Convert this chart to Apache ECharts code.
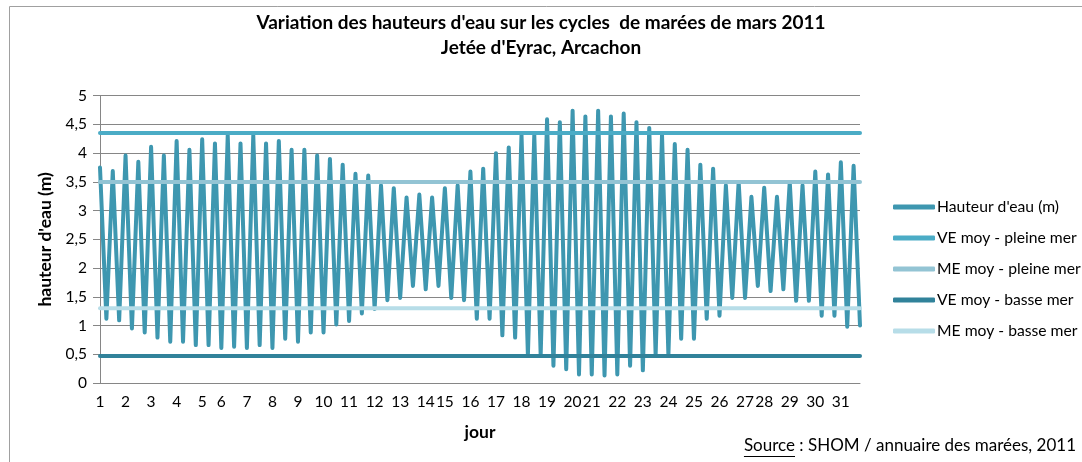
<!DOCTYPE html>
<html>
<head>
<meta charset="utf-8">
<script src="https://cdn.jsdelivr.net/npm/echarts@6/dist/echarts.min.js"></script>
<style>
  html, body { margin: 0; padding: 0; background: #fff; }
  #chart { width: 1082px; height: 462px; }
</style>
</head>
<body>
<div id="chart"></div>
<script>
// hauteurs de pleine mer (m), une par marée, dans l'ordre
var pleineMer = [3.75, 3.69, 3.96, 3.85, 4.11, 3.96, 4.21, 4.06, 4.24, 4.17,
  4.31, 4.17, 4.31, 4.17, 4.21, 4.06, 4.06, 3.96, 3.90, 3.80,
  3.64, 3.61, 3.44, 3.39, 3.23, 3.28, 3.23, 3.39, 3.44, 3.68,
  3.73, 4.00, 4.10, 4.32, 4.32, 4.59, 4.54, 4.74, 4.64, 4.74,
  4.64, 4.69, 4.54, 4.44, 4.32, 4.16, 4.06, 3.80, 3.73, 3.44,
  3.50, 3.24, 3.40, 3.24, 3.50, 3.44, 3.68, 3.63, 3.84, 3.78];
// hauteurs de basse mer (m), chacune après la pleine mer de même rang
var basseMer = [1.12, 1.09, 0.95, 0.88, 0.79, 0.72, 0.72, 0.66, 0.66, 0.61,
  0.63, 0.61, 0.66, 0.61, 0.77, 0.72, 0.88, 0.88, 1.02, 1.08,
  1.21, 1.29, 1.44, 1.48, 1.69, 1.63, 1.69, 1.48, 1.44, 1.12,
  1.12, 0.83, 0.79, 0.49, 0.49, 0.30, 0.24, 0.15, 0.15, 0.13,
  0.15, 0.30, 0.22, 0.49, 0.49, 0.77, 0.77, 1.12, 1.17, 1.48,
  1.48, 1.69, 1.60, 1.63, 1.43, 1.43, 1.17, 1.17, 0.98, 1.00];
// jours du mois et rang de leur première marée
var jours = [1, 2, 3, 4, 5, 6, 7, 8, 9, 10, 11, 12, 13, 14, 15, 16,
  17, 18, 19, 20, 21, 22, 23, 24, 25, 26, 27, 28, 29, 30, 31];
var debutJour = [0, 4, 8, 12, 16, 19, 23, 27, 31, 35, 39, 43, 47, 51, 54, 58,
  62, 66, 70, 74, 77, 81, 85, 89, 93, 97, 101, 104, 108, 112, 116];
// niveaux moyens (m)
var veMoyPleine = 4.35;
var meMoyPleine = 3.5;
var veMoyBasse = 0.47;
var meMoyBasse = 1.3;

var police = 'Lato, "Noto Sans", sans-serif';

// série des marées : pleine mer puis basse mer
var hauteur = [];
pleineMer.forEach(function (h, i) {
  hauteur.push(h);
  hauteur.push(basseMer[i]);
});
var nb = hauteur.length;

// étiquettes de l'axe : le n° du jour sur sa première marée
var categories = [];
for (var k = 0; k < nb; k++) categories.push('');
debutJour.forEach(function (idx, j) { categories[idx] = String(jours[j]); });

function niveau(v) { return [[0, v], [nb - 1, v]]; }

function ligne(nom, data, couleur) {
  return {
    name: nom,
    type: 'line',
    data: data,
    symbol: 'none',
    showSymbol: false,
    silent: true,
    lineStyle: { color: couleur, width: 4, cap: 'round', join: 'round' },
    itemStyle: { color: couleur }
  };
}

// largeur du texte pour souligner "Source"
var fontSource = '17px ' + police;
var ctx = document.createElement('canvas').getContext('2d');
ctx.font = fontSource;
var txtSource = 'Source';
var txtReste = ' : SHOM / annuaire des marées, 2011';
var wSource = ctx.measureText(txtSource).width;
var wTout = ctx.measureText(txtSource + txtReste).width;
var xSource = 1076 - wTout;

var grafico = echarts.init(document.getElementById('chart'));
var option = {
  animation: false,
  backgroundColor: '#fff',
  title: {
    text: "Variation des hauteurs d'eau sur les cycles  de marées de mars 2011\nJetée d'Eyrac, Arcachon",
    left: 'center',
    top: 10,
    padding: 0,
    textStyle: {
      fontFamily: police, fontSize: 19, fontWeight: 'bold', color: '#000', lineHeight: 25
    }
  },
  legend: {
    orient: 'vertical',
    left: 888,
    top: 194,
    itemWidth: 42,
    itemHeight: 5,
    itemGap: 15,
    icon: 'roundRect',
    textStyle: { fontFamily: police, fontSize: 15.7, color: '#000', lineHeight: 16, padding: [0, 0, 0, -3] },
    data: ["Hauteur d'eau (m)", 'VE moy - pleine mer', 'ME moy - pleine mer',
      'VE moy - basse mer', 'ME moy - basse mer']
  },
  grid: { left: 100, right: 222, top: 95.7, bottom: 79 },
  xAxis: {
    type: 'category',
    data: categories,
    boundaryGap: false,
    name: 'jour',
    nameLocation: 'middle',
    nameGap: 40,
    nameTextStyle: { fontFamily: police, fontSize: 17.5, fontWeight: 'bold', color: '#000' },
    axisLine: { lineStyle: { color: '#868686', width: 1 } },
    axisTick: { show: false },
    axisLabel: { interval: 0, margin: 11, fontFamily: police, fontSize: 15.5, color: '#000' },
    splitLine: { show: false }
  },
  yAxis: {
    type: 'value',
    min: 0,
    max: 5,
    interval: 0.5,
    name: "hauteur d'eau (m)",
    nameLocation: 'middle',
    nameGap: 43,
    nameTextStyle: { fontFamily: police, fontSize: 17.5, fontWeight: 'bold', color: '#000' },
    axisLine: { show: true, lineStyle: { color: '#868686', width: 1 } },
    axisTick: { show: true, length: 7, lineStyle: { color: '#868686' } },
    axisLabel: {
      margin: 13, fontFamily: police, fontSize: 15.5, color: '#000',
      formatter: function (v) { return String(v).replace('.', ','); }
    },
    splitLine: { lineStyle: { color: '#868686', width: 1 } }
  },
  series: [
    ligne("Hauteur d'eau (m)", hauteur, '#3e97b0'),
    ligne('VE moy - pleine mer', niveau(veMoyPleine), '#4bacc6'),
    ligne('ME moy - pleine mer', niveau(meMoyPleine), '#93c4d4'),
    ligne('VE moy - basse mer', niveau(veMoyBasse), '#31829a'),
    ligne('ME moy - basse mer', niveau(meMoyBasse), '#b7dde8')
  ],
  graphic: [
    {
      type: 'rect',
      shape: { x: 9.5, y: 6.5, width: 1100, height: 500 },
      style: { fill: 'none', stroke: '#a0a0a0', lineWidth: 1 },
      silent: true
    },
    {
      type: 'text',
      x: xSource,
      y: 437,
      style: { text: txtSource + txtReste, font: fontSource, fill: '#000' },
      silent: true
    },
    {
      type: 'line',
      shape: { x1: xSource, y1: 456.5, x2: xSource + wSource, y2: 456.5 },
      style: { stroke: '#000', lineWidth: 1 },
      silent: true
    }
  ]
};

grafico.setOption(option);
</script>
</body>
</html>
